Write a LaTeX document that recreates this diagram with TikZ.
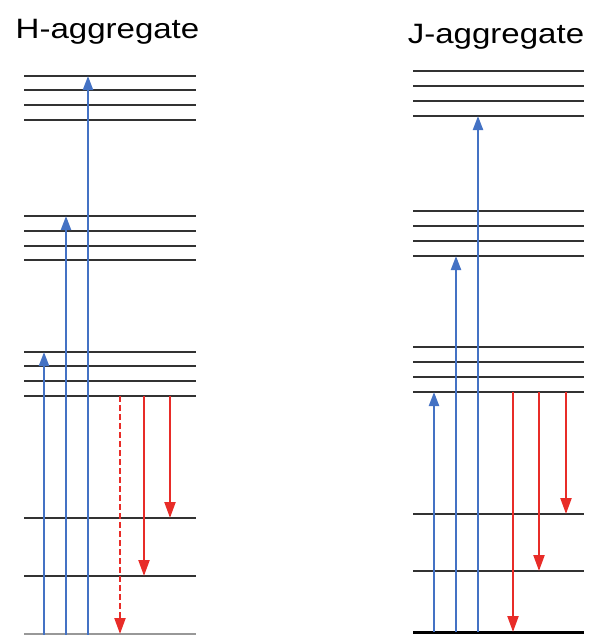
\documentclass[tikz,border=0pt]{standalone}
\usepackage{fontspec}
\setmainfont{Liberation Sans}
\usetikzlibrary{arrows.meta}
\definecolor{excblue}{RGB}{68,114,196}
\definecolor{emred}{RGB}{232,44,40}
\definecolor{lvl}{RGB}{50,50,50}
\begin{document}
\begin{tikzpicture}[x=1pt,y=-1pt,
  level/.style={draw=lvl,line width=1.8pt},
  absorb/.style={draw=excblue,line width=2.2pt,-{Triangle[width=10pt,length=14pt]}},
  emit/.style={draw=emred,line width=2.2pt,-{Triangle[width=11pt,length=16pt]}},
  title/.style={anchor=base,inner sep=0pt,font=\fontsize{28}{32}\selectfont}]
\useasboundingbox (0,0) rectangle (592,635);
% titles
\node[title] (th) at (107.5,38.5) {\scalebox{1.18}[1]{H-aggregate}};
\node[title] (tj) at (496,43.5) {\scalebox{1.18}[1]{J-aggregate}};
% H levels
\foreach \y [count=\i] in {76,90,105,120,216,231,246,260,352,366,381,396,518,576}
  {\coordinate (hl\i) at (24,\y); \coordinate (hr\i) at (196,\y);
   \draw[level] (hl\i) -- (hr\i);}
\coordinate (hbl) at (24,634); \coordinate (hbr) at (196,634);
\draw[draw=lvl!50,line width=1.8pt] (hbl) -- (hbr);
% H absorption
\coordinate (ha1s) at (44,635); \coordinate (ha1e) at (44,352);
\coordinate (ha2s) at (66,635); \coordinate (ha2e) at (66,216);
\coordinate (ha3s) at (88,635); \coordinate (ha3e) at (88,76);
\draw[absorb] (ha1s) -- (ha1e);
\draw[absorb] (ha2s) -- (ha2e);
\draw[absorb] (ha3s) -- (ha3e);
% H emission
\coordinate (he1s) at (120,396); \coordinate (he1e) at (120,634);
\coordinate (he2s) at (144,396); \coordinate (he2e) at (144,576);
\coordinate (he3s) at (170,396); \coordinate (he3e) at (170,518);
\draw[emit,dash pattern=on 6pt off 3pt] (he1s) -- (he1e);
\draw[emit] (he2s) -- (he2e);
\draw[emit] (he3s) -- (he3e);
% J levels
\foreach \y [count=\i] in {71,86,101,116,211,226,241,256,347,362,377,392,514,571}
  {\coordinate (jl\i) at (413,\y); \coordinate (jr\i) at (584,\y);
   \draw[level] (jl\i) -- (jr\i);}
\coordinate (jbl) at (413,632); \coordinate (jbr) at (584,632);
\draw[draw=black,line width=3pt] (jbl) -- (jbr);
% J absorption
\coordinate (ja1s) at (434,632); \coordinate (ja1e) at (434,392);
\coordinate (ja2s) at (456,632); \coordinate (ja2e) at (456,256);
\coordinate (ja3s) at (478,632); \coordinate (ja3e) at (478,116);
\draw[absorb] (ja1s) -- (ja1e);
\draw[absorb] (ja2s) -- (ja2e);
\draw[absorb] (ja3s) -- (ja3e);
% J emission
\coordinate (je1s) at (513,392); \coordinate (je1e) at (513,632);
\coordinate (je2s) at (539,392); \coordinate (je2e) at (539,571);
\coordinate (je3s) at (566,392); \coordinate (je3e) at (566,514);
\draw[emit] (je1s) -- (je1e);
\draw[emit] (je2s) -- (je2e);
\draw[emit] (je3s) -- (je3e);
\end{tikzpicture}
\end{document}
